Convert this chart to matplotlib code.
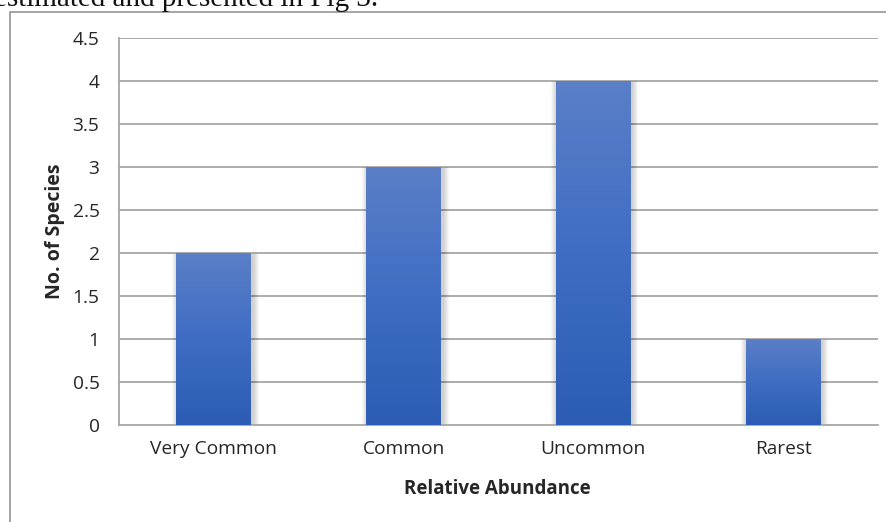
import matplotlib
matplotlib.use("Agg")
import matplotlib.pyplot as plt
import numpy as np
from matplotlib.patches import Rectangle
from matplotlib.colors import LinearSegmentedColormap

categories = ["Very Common", "Common", "Uncommon", "Rarest"]
species_counts = [2, 3, 4, 1]
y_ticks = [0, 0.5, 1, 1.5, 2, 2.5, 3, 3.5, 4, 4.5]
y_tick_labels = ["0", "0.5", "1", "1.5", "2", "2.5", "3", "3.5", "4", "4.5"]

W, H = 887, 522
fig = plt.figure(figsize=(W / 100, H / 100), dpi=100)
fig.patch.set_facecolor("white")

text_color = "#262626"
grid_color = "#A6A6A6"
font = "Open Sans"

# surrounding document text and chart frame
fig.text(378 / W, 1 - 6 / H, "estimated and presented in Fig 3.", ha="right",
         va="baseline", fontsize=21, family="Liberation Serif", color="#111111")
frame = Rectangle((10 / W, -0.05), 1.2, 1 - 12 / H + 0.05, transform=fig.transFigure,
                  fill=False, edgecolor="#8C8C8C", linewidth=1.1)
fig.add_artist(frame)

left, right = 119 / W, 878 / W
bottom, top = 1 - 425 / H, 1 - 37.5 / H
ax = fig.add_axes([left, bottom, right - left, top - bottom])
ax.set_xlim(-0.5, len(categories) - 0.5)
ax.set_ylim(0, 4.5)

for s in ["top", "right"]:
    ax.spines[s].set_visible(False)
for s in ["left", "bottom"]:
    ax.spines[s].set_color(grid_color)
    ax.spines[s].set_linewidth(1.3)

ax.set_yticks(y_ticks)
ax.set_yticklabels(y_tick_labels)
ax.set_xticks(range(len(categories)))
ax.set_xticklabels(categories)
ax.tick_params(axis="both", length=0, labelsize=13.8, labelcolor=text_color)
ax.tick_params(axis="y", pad=14)
ax.tick_params(axis="x", pad=11)
for lbl in ax.get_xticklabels() + ax.get_yticklabels():
    lbl.set_family(font)

for y in y_ticks[1:]:
    ax.axhline(y, color=grid_color, linewidth=1.3, zorder=1)

bar_width = 0.395
px_x = (len(categories)) / (878 - 119)
px_y = 4.5 / (425 - 37.5)

grad = LinearSegmentedColormap.from_list("bar", ["#2C5CB4", "#3F6DC3", "#5B7FC8"])
gradient = np.linspace(0, 1, 256).reshape(-1, 1)

bars = ax.bar(range(len(categories)), species_counts, width=bar_width,
              facecolor="none", edgecolor="none", zorder=3)
for rect, val in zip(bars, species_counts):
    x0 = rect.get_x()
    w = rect.get_width()
    # soft drop shadow along the sides
    for k in range(1, 7):
        sh = Rectangle((x0 + 1.5 * px_x - k * px_x, 0), w + 2 * k * px_x,
                       val - 2 * px_y + k * px_y * 0.25,
                       facecolor="black", edgecolor="none", alpha=0.03, zorder=2,
                       clip_on=True)
        ax.add_patch(sh)
    im = ax.imshow(gradient, cmap=grad, origin="lower", aspect="auto",
                   extent=(x0, x0 + w, 0, val), zorder=3, interpolation="bilinear")
    im.set_clip_path(rect)

ax.set_xlim(-0.5, len(categories) - 0.5)
ax.set_ylim(0, 4.5)

ax.set_ylabel("No. of Species", fontsize=14, fontweight="bold", family=font,
              color=text_color, va="center")
ax.yaxis.set_label_coords((55 - 119) / (878 - 119), 0.5)
ax.set_xlabel("Relative Abundance", fontsize=13.5, fontweight="bold", family=font,
              color=text_color, va="center")
ax.xaxis.set_label_coords((497 - 119) / (878 - 119), (425 - 489) / (425 - 37.5))

fig.savefig("out.png", dpi=100)
